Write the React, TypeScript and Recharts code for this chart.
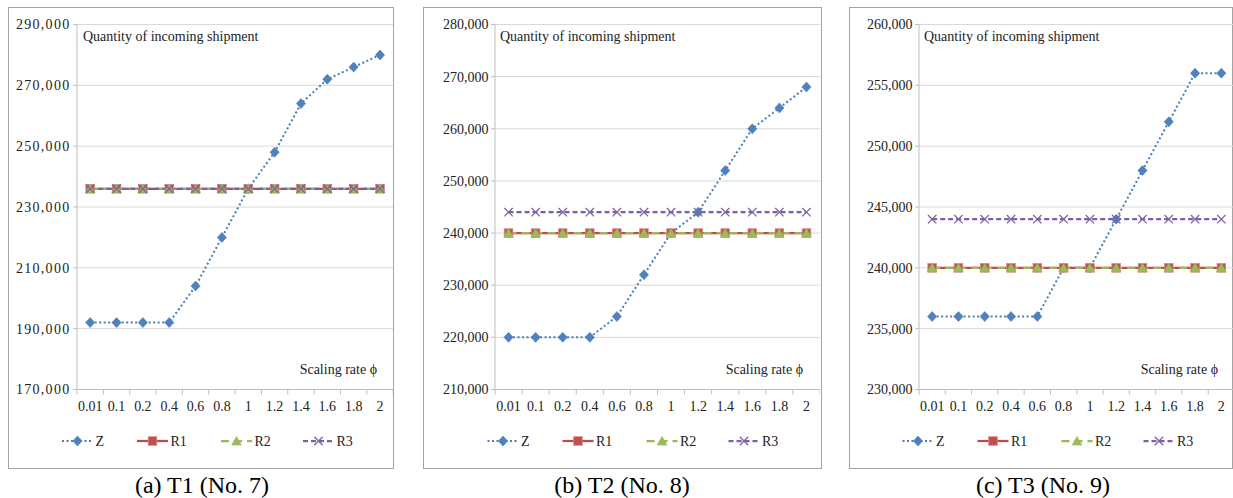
import React from 'react';
import { LineChart, Line, XAxis, YAxis, CartesianGrid } from 'recharts';

// ---------- data ----------
const categories = ['0.01', '0.1', '0.2', '0.4', '0.6', '0.8', '1', '1.2', '1.4', '1.6', '1.8', '2'];

const t1Z = [192000, 192000, 192000, 192000, 204000, 220000, 236000, 248000, 264000, 272000, 276000, 280000];
const t1R1 = [236000, 236000, 236000, 236000, 236000, 236000, 236000, 236000, 236000, 236000, 236000, 236000];
const t1R2 = [236000, 236000, 236000, 236000, 236000, 236000, 236000, 236000, 236000, 236000, 236000, 236000];
const t1R3 = [236000, 236000, 236000, 236000, 236000, 236000, 236000, 236000, 236000, 236000, 236000, 236000];
const t1Ticks = [170000, 190000, 210000, 230000, 250000, 270000, 290000];

const t2Z = [220000, 220000, 220000, 220000, 224000, 232000, 240000, 244000, 252000, 260000, 264000, 268000];
const t2R1 = [240000, 240000, 240000, 240000, 240000, 240000, 240000, 240000, 240000, 240000, 240000, 240000];
const t2R2 = [240000, 240000, 240000, 240000, 240000, 240000, 240000, 240000, 240000, 240000, 240000, 240000];
const t2R3 = [244000, 244000, 244000, 244000, 244000, 244000, 244000, 244000, 244000, 244000, 244000, 244000];
const t2Ticks = [210000, 220000, 230000, 240000, 250000, 260000, 270000, 280000];

const t3Z = [236000, 236000, 236000, 236000, 236000, 240000, 240000, 244000, 248000, 252000, 256000, 256000];
const t3R1 = [240000, 240000, 240000, 240000, 240000, 240000, 240000, 240000, 240000, 240000, 240000, 240000];
const t3R2 = [240000, 240000, 240000, 240000, 240000, 240000, 240000, 240000, 240000, 240000, 240000, 240000];
const t3R3 = [244000, 244000, 244000, 244000, 244000, 244000, 244000, 244000, 244000, 244000, 244000, 244000];
const t3Ticks = [230000, 235000, 240000, 245000, 250000, 255000, 260000];

const seriesNames = ['Z', 'R1', 'R2', 'R3'];
const captions = ['(a) T1 (No. 7)', '(b) T2 (No. 8)', '(c) T3 (No. 9)'];
const chartTitle = 'Quantity of incoming shipment';
const xTitle = 'Scaling rate \u03D5';

// ---------- styles ----------
const FONT = '"Liberation Serif", "Times New Roman", serif';
const TEXT = '#222';
const SERIES_STYLE: Record<string, { color: string; fill: string; dash?: string; width: number }> = {
  Z: { color: '#4A7EBB', fill: '#4F81BD', dash: '2 2.5', width: 2 },
  R1: { color: '#BE4B48', fill: '#C0504D', width: 2.25 },
  R2: { color: '#98B954', fill: '#9BBB59', dash: '8 5', width: 2.25 },
  R3: { color: '#7D60A0', fill: '#8064A2', dash: '5 3', width: 2.25 },
};

function Marker({ name, cx, cy }: { name: string; cx: number; cy: number }) {
  const s = SERIES_STYLE[name];
  if (cx == null || cy == null || isNaN(cx) || isNaN(cy)) return null;
  if (name === 'Z') {
    return <path d={`M${cx},${cy - 5} L${cx + 4.6},${cy} L${cx},${cy + 5} L${cx - 4.6},${cy} Z`} fill={s.fill} stroke={s.color} strokeWidth={0.6} />;
  }
  if (name === 'R1') {
    return <rect x={cx - 4.3} y={cy - 4.3} width={8.6} height={8.6} fill={s.fill} stroke="#D98A88" strokeWidth={0.8} />;
  }
  if (name === 'R2') {
    return <path d={`M${cx},${cy - 4.6} L${cx + 4.8},${cy + 4} L${cx - 4.8},${cy + 4} Z`} fill={s.fill} stroke={s.fill} strokeWidth={0.6} />;
  }
  return (
    <g stroke={s.fill} strokeWidth={1.3}>
      <line x1={cx - 4.2} y1={cy - 4.2} x2={cx + 4.2} y2={cy + 4.2} />
      <line x1={cx - 4.2} y1={cy + 4.2} x2={cx + 4.2} y2={cy - 4.2} />
    </g>
  );
}

const makeDot = (name: string) => (props: any) => (
  <g key={`${name}-${props.index}`}>
    <Marker name={name} cx={props.cx} cy={props.cy} />
  </g>
);

const xTickValues: number[] = [];
categories.forEach((_, i) => {
  xTickValues.push(i - 0.5);
  xTickValues.push(i);
});
xTickValues.push(categories.length - 0.5);

const XTick = (props: any) => {
  const { x, y, payload } = props;
  const v = payload.value as number;
  if (!Number.isInteger(v)) {
    return <line x1={x} x2={x} y1={y} y2={y + 5} stroke="#bfbfbf" strokeWidth={1} />;
  }
  return (
    <text x={x} y={y + 12} dy="0.71em" textAnchor="middle" fontFamily={FONT} fontSize={14} fill={TEXT}>
      {categories[v]}
    </text>
  );
};

type PanelCfg = {
  Z: number[]; R1: number[]; R2: number[]; R3: number[];
  ticks: number[];
  box: [number, number, number, number];
  plotLeft: number; plotRight: number;
  ls: number;
  titleX: number; xTitleRight: number; legendX: number; captionX: number;
};

const panels: PanelCfg[] = [
  { Z: t1Z, R1: t1R1, R2: t1R2, R3: t1R3, ticks: t1Ticks, box: [8, 7, 394, 469], plotLeft: 77, plotRight: 393.2, ls: 1.3, titleX: 83, xTitleRight: 377, legendX: 77.5, captionX: 202 },
  { Z: t2Z, R1: t2R1, R2: t2R2, R3: t2R3, ticks: t2Ticks, box: [423, 7, 822, 469], plotLeft: 495, plotRight: 820, ls: 0, titleX: 500, xTitleRight: 803, legendX: 503, captionX: 622 },
  { Z: t3Z, R1: t3R1, R2: t3R2, R3: t3R3, ticks: t3Ticks, box: [849, 7, 1233, 469], plotLeft: 918.5, plotRight: 1234, ls: 0, titleX: 924, xTitleRight: 1218, legendX: 918, captionX: 1043 },
];

const CH = 470;
const PLOT_TOP = 24.5;
const PLOT_BOTTOM = 389.5;
const YW = 60;

function Panel({ p }: { p: PanelCfg }) {
  const data = categories.map((c, i) => ({ idx: i, label: c, Z: p.Z[i], R1: p.R1[i], R2: p.R2[i], R3: p.R3[i] }));
  const left = p.plotLeft - YW - 10;
  const width = p.plotRight - left;
  const domain: [number, number] = [p.ticks[0], p.ticks[p.ticks.length - 1]];
  return (
    <div style={{ position: 'absolute', left, top: 0 }}>
      <LineChart
        width={width}
        height={CH}
        data={data}
        margin={{ top: PLOT_TOP, right: 0, left: 10, bottom: CH - PLOT_BOTTOM - 30 }}
      >
        <CartesianGrid vertical={false} stroke="#d9d9d9" strokeWidth={1} />
        <XAxis
          dataKey="idx"
          type="number"
          domain={[-0.5, categories.length - 0.5]}
          ticks={xTickValues}
          interval={0}
          height={30}
          tick={<XTick />}
          tickLine={false}
          tickSize={0}
          tickMargin={0}
          axisLine={{ stroke: '#bfbfbf', strokeWidth: 1 }}
        />
        <YAxis
          type="number"
          domain={domain}
          ticks={p.ticks}
          interval={0}
          width={YW}
          tickSize={4}
          tickMargin={2.5}
          tickLine={{ stroke: '#bfbfbf' }}
          axisLine={{ stroke: '#bfbfbf', strokeWidth: 1 }}
          tick={{ fontFamily: FONT, fontSize: 14, fill: TEXT, letterSpacing: p.ls }}
          tickFormatter={(v: number) => v.toLocaleString('en-US')}
        />
        {seriesNames.map((n) => (
          <Line
            key={n}
            dataKey={n}
            type="linear"
            stroke={SERIES_STYLE[n].color}
            strokeWidth={SERIES_STYLE[n].width}
            strokeDasharray={SERIES_STYLE[n].dash}
            dot={makeDot(n)}
            activeDot={false}
            isAnimationActive={false}
          />
        ))}
      </LineChart>
    </div>
  );
}

const legendOffsets = [0, 75, 159, 241];

function LegendItem({ name, cx, cy }: { name: string; cx: number; cy: number }) {
  const s = SERIES_STYLE[name];
  return (
    <g>
      <line x1={cx - 15.5} x2={cx + 15.5} y1={cy} y2={cy} stroke={s.color} strokeWidth={s.width} strokeDasharray={s.dash} />
      <Marker name={name} cx={cx} cy={cy} />
      <text x={cx + 18} y={cy} dominantBaseline="central" fontFamily={FONT} fontSize={14} fill={TEXT}>{name}</text>
    </g>
  );
}

export default function App() {
  return (
    <div style={{ position: 'fixed', left: 0, top: 0, width: 1233, height: 498, overflow: 'hidden', background: '#fff' }}>
      {panels.map((p, i) => (
        <div
          key={`box-${i}`}
          style={{
            position: 'absolute',
            left: p.box[0],
            top: p.box[1],
            width: p.box[2] - p.box[0],
            height: p.box[3] - p.box[1],
            border: '1.5px solid #a3a3a3',
            boxSizing: 'border-box',
          }}
        />
      ))}
      {panels.map((p, i) => (
        <Panel key={`panel-${i}`} p={p} />
      ))}
      <svg width={1233} height={498} style={{ position: 'absolute', left: 0, top: 0, pointerEvents: 'none' }}>
        {panels.map((p, i) => (
          <g key={`ov-${i}`}>
            <text x={p.titleX} y={36.5} dominantBaseline="central" fontFamily={FONT} fontSize={14} fill={TEXT}>{chartTitle}</text>
            <text x={p.xTitleRight} y={369} dominantBaseline="central" textAnchor="end" fontFamily={FONT} fontSize={14} fill={TEXT}>{xTitle}</text>
            {seriesNames.map((n, k) => (
              <LegendItem key={n} name={n} cx={p.legendX + legendOffsets[k]} cy={441} />
            ))}
            <text x={p.captionX} y={485} dominantBaseline="central" textAnchor="middle" fontFamily={FONT} fontSize={24} fill="#000">{captions[i]}</text>
          </g>
        ))}
      </svg>
    </div>
  );
}
